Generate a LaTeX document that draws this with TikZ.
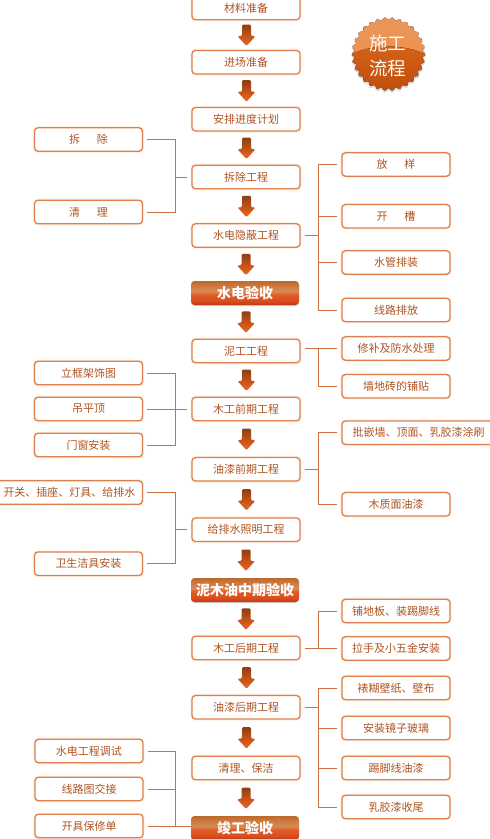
\documentclass[tikz,border=0pt]{standalone}
\usepackage{fontspec}
\setmainfont{Noto Sans CJK SC}
\usetikzlibrary{calc,arrows.meta}
\definecolor{edge}{RGB}{222,128,78}
\definecolor{txt}{RGB}{176,84,34}
\definecolor{wire}{RGB}{205,112,66}
\definecolor{arrowTop}{RGB}{140,62,20}
\definecolor{arrowMid}{RGB}{196,82,24}
\definecolor{arrowLow}{RGB}{236,104,36}
\pgfdeclareverticalshading{gateshade}{100bp}{
  rgb(0bp)=(0.74,0.22,0.07);
  rgb(25bp)=(0.74,0.22,0.07);
  rgb(33bp)=(0.85,0.30,0.11);
  rgb(47bp)=(0.89,0.36,0.16);
  rgb(53bp)=(0.84,0.54,0.34);
  rgb(66bp)=(0.80,0.47,0.24);
  rgb(75bp)=(0.74,0.41,0.17);
  rgb(100bp)=(0.74,0.41,0.17)}
\tikzset{
  x=1pt,y=-1pt,
  box/.style={draw=edge,line width=1.3pt,rounded corners=3.5pt,fill=white,text=txt,
    font=\fontsize{11}{13}\selectfont,anchor=center,inner sep=0pt,
    preaction={draw=orange!12,line width=3.2pt}},
  mainbox/.style={box,minimum width=108pt,minimum height=23.5pt},
  sidebox/.style={box,minimum width=108pt,minimum height=23.5pt},
  gate/.style={rounded corners=3.5pt,minimum width=108pt,minimum height=24pt,inner sep=0pt,
    text=white,font=\fontsize{14}{16}\selectfont\bfseries,shading=gateshade,
    preaction={fill=black!18,rounded corners=3.5pt,transform canvas={yshift=-1pt}}},
  conn/.style={draw=wire,line width=0.9pt,shorten <=4pt},
  connb/.style={conn,shorten >=4pt},
  flowtip/.style={draw=arrowMid,line width=4pt,-{Triangle[width=9pt,length=5pt]},shorten <=10pt,shorten >=10pt},
  flowfill/.style={top color=arrowTop,bottom color=arrowLow,middle color=arrowMid,draw=none,rounded corners=1.2pt},
}
\newcommand{\flowarrow}[2]{%
  \draw[flowtip] (#1.south) -- (#2.north);
  \path[flowfill] ($(#1.south)!.5!(#2.north)$) ++(.5,-10.5) ++(-4.5,0) -- ++(9,0) -- ++(0,11.5)
    -- ++(4.5,0) -- ++(-9,10) -- ++(-9,-10) -- ++(4.5,0) -- cycle;
}
\begin{document}
\begin{tikzpicture}
\clip (0,0) rectangle (490,839);
\fill[white] (0,0) rectangle (490,839);
% centre column
\node[mainbox] (c1) at (246,8) {材料准备};
\node[mainbox] (c2) at (246,62.2) {进场准备};
\node[mainbox] (c3) at (246,119.2) {安排进度计划};
\node[mainbox] (c4) at (246,177) {拆除工程};
\node[mainbox] (c5) at (246,235.5) {水电隐蔽工程};
\node[gate] (g1) at (245,293) {水电验收};
\node[mainbox] (c6) at (246,351) {泥工工程};
\node[mainbox] (c7) at (246,409) {木工前期工程};
\node[mainbox] (c8) at (246,469.3) {油漆前期工程};
\node[mainbox] (c9) at (246,529.8) {给排水照明工程};
\node[gate] (g2) at (245,590) {泥木油中期验收};
\node[mainbox] (c10) at (246,648) {木工后期工程};
\node[mainbox] (c11) at (246,707.3) {油漆后期工程};
\node[mainbox] (c12) at (246,768) {清理、保洁};
\node[gate] (g3) at (245,828) {竣工验收};
% left column
\node[sidebox] (l1) at (88.5,139.5) {拆\hspace{17pt}除};
\node[sidebox] (l2) at (88.5,212) {清\hspace{17pt}理};
\node[sidebox] (l3) at (88.5,373) {立框架饰图};
\node[sidebox] (l4) at (88.5,409) {吊平顶};
\node[sidebox] (l5) at (88.5,445) {门窗安装};
\node[box,minimum width=148pt,minimum height=23.5pt] (l6) at (68.5,492.5) {\hspace{2pt}开关、插座、灯具、给排水};
\node[sidebox] (l7) at (88.5,563.7) {卫生洁具安装};
\node[sidebox] (l8) at (89,751) {水电工程调试};
\node[sidebox] (l9) at (89,789) {线路图交接};
\node[sidebox] (l10) at (89,826) {开具保修单};
% right column
\node[sidebox] (r1) at (396,164.5) {放\hspace{17pt}样};
\node[sidebox] (r2) at (396,216.3) {开\hspace{17pt}槽};
\node[sidebox] (r3) at (396,262.5) {水管排装};
\node[sidebox] (r4) at (396,310) {线路排放};
\node[sidebox] (r5) at (396,348.5) {修补及防水处理};
\node[sidebox] (r6) at (396,386.3) {墙地砖的铺贴};
\node[box,minimum width=153pt,minimum height=23.5pt] (r7) at (418.5,432.7) {批嵌墙、顶面、乳胶漆涂刷};
\node[sidebox] (r8) at (396,504.3) {木质面油漆};
\node[sidebox] (r9) at (396,611) {铺地板、装踢脚线};
\node[sidebox] (r10) at (396,648.5) {拉手及小五金安装};
\node[sidebox] (r11) at (396,688) {裱糊壁纸、壁布};
\node[sidebox] (r12) at (396,728) {安装镜子玻璃};
\node[sidebox] (r13) at (396,768) {踢脚线油漆};
\node[sidebox] (r14) at (396,807) {乳胶漆收尾};
% bus lines
\coordinate (lb) at (175,0);
\coordinate (rb) at (318.5,0);
% flow arrows
\flowarrow{c1}{c2}
\flowarrow{c2}{c3}
\flowarrow{c3}{c4}
\flowarrow{c4}{c5}
\flowarrow{c5}{g1}
\flowarrow{g1}{c6}
\flowarrow{c6}{c7}
\flowarrow{c7}{c8}
\flowarrow{c8}{c9}
\flowarrow{c9}{g2}
\flowarrow{g2}{c10}
\flowarrow{c10}{c11}
\flowarrow{c11}{c12}
\flowarrow{c12}{g3}
% left connectors
\draw[connb] (l1.east) -- (l1.east -| lb) -- (l2.east -| lb) -- (l2.east);
\draw[conn] (c4.west) -- (c4.west -| lb);
\draw[connb] (l3.east) -- (l3.east -| lb) -- (l5.east -| lb) -- (l5.east);
\draw[connb] (l4.east) -- (c7.west);
\draw[connb] (l6.east) -- (l6.east -| lb) -- (l7.east -| lb) -- (l7.east);
\draw[conn] (c9.west) -- (c9.west -| lb);
\draw[conn] (l8.east) -- (l8.east -| lb) -- (l10.east -| lb);
\draw[conn] (l9.east) -- (l9.east -| lb);
\draw[conn] (l10.east) -- (l10.east -| g3.west);
% right connectors
\draw[connb] (r1.west) -- (r1.west -| rb) -- (r4.west -| rb) -- (r4.west);
\draw[conn] (r2.west) -- (r2.west -| rb);
\draw[conn] (r3.west) -- (r3.west -| rb);
\draw[conn] (c5.east) -- (c5.east -| rb);
\draw[connb] (r5.west) -- (r5.west -| c6.east);
\draw[conn] (r6.west) -- (r6.west -| rb) -- (r5.west -| rb);
\draw[connb] (r7.west) -- (r7.west -| rb) -- (r8.west -| rb) -- (r8.west);
\draw[conn] (c8.east) -- (c8.east -| rb);
\draw[conn] (r9.west) -- (r9.west -| rb) -- (r10.west -| rb);
\draw[connb] (r10.west) -- (r10.west -| c10.east);
\draw[connb] (r11.west) -- (r11.west -| rb) -- (r14.west -| rb) -- (r14.west);
\draw[conn] (r12.west) -- (r12.west -| rb);
\draw[conn] (r13.west) -- (r13.west -| rb);
\draw[conn] (c11.east) -- (c11.east -| rb);
% badge
\definecolor{badgeA}{RGB}{232,150,92}
\definecolor{badgeB}{RGB}{240,146,78}
\definecolor{badgeC}{RGB}{214,98,24}
\definecolor{badgeD}{RGB}{190,78,14}
\fill[black!14] plot[smooth cycle,samples=240,domain=0:358.5] ({388.5+(36.2+1.2*cos(30*\x))*cos(\x)},{55.5+(36.2+1.2*cos(30*\x))*sin(\x)});
\begin{scope}
\clip plot[samples=240,domain=0:358.5] ({388.5+(35.4+1.3*cos(30*\x))*cos(\x)},{54+(35.4+1.3*cos(30*\x))*sin(\x)});
\fill[top color=badgeA,bottom color=badgeB] (350,15) rectangle (428,56);
\fill[top color=badgeC,bottom color=badgeD] (352,54) .. controls (372,44) and (404,44) .. (425,54) -- (425,92) -- (352,92) -- cycle;
\end{scope}
\node[text=white!96!orange,font=\fontsize{18.5}{25}\selectfont,inner sep=0pt,align=center] (badge) at (387.5,55.5) {施工\\流程};
\end{tikzpicture}
\end{document}
